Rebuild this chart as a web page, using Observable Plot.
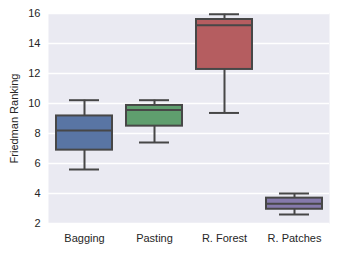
<!DOCTYPE html>
<html>
<head>
<meta charset="utf-8">
<script src="https://cdn.jsdelivr.net/npm/d3@7"></script>
<script src="https://cdn.jsdelivr.net/npm/@observablehq/plot@0.6"></script>
<style>
  html, body { margin: 0; padding: 0; background: #fff; }
  svg { display: block; }
</style>
</head>
<body>
<div id="chart"></div>
<script>
const categories = ["Bagging", "Pasting", "R. Forest", "R. Patches"];
const whiskerLow = [5.6, 7.4, 9.37, 2.6];
const q1 = [6.89, 8.49, 12.27, 2.95];
const median = [8.2, 9.57, 15.22, 3.31];
const q3 = [9.17, 9.87, 15.6, 3.69];
const whiskerHigh = [10.22, 10.22, 15.95, 4.0];
const colors = ["#5975A4", "#5F9E6E", "#B55D60", "#857AAB"];
const yTicks = [2, 4, 6, 8, 10, 12, 14, 16];

const data = categories.map((c, i) => ({
  cat: c, lo: whiskerLow[i], q1: q1[i], med: median[i], q3: q3[i], hi: whiskerHigh[i], color: colors[i]
}));

const lineColor = "#474747";

const chart = Plot.plot({
  width: 338,
  height: 254,
  marginLeft: 48,
  marginRight: 9,
  marginTop: 13,
  marginBottom: 31,
  style: { fontFamily: "'Liberation Sans', Arial, sans-serif", fontSize: "11px", color: "#262626", background: "#fff" },
  x: { domain: categories, paddingInner: 0.2, paddingOuter: 0.1, label: null },
  y: { domain: [2, 16], label: null },
  marks: [
    Plot.frame({ fill: "#EAEAF2", stroke: null }),
    Plot.gridY(yTicks, { stroke: "#fff", strokeOpacity: 1, strokeWidth: 1.3 }),
    Plot.axisX({ tickSize: 0, tickPadding: 11, label: null, fontSize: 11 }),
    Plot.axisY(yTicks, { tickSize: 0, tickPadding: 8, label: "Friedman Ranking", labelAnchor: "center", labelArrow: "none", labelOffset: 38, fontSize: 11 }),
    Plot.ruleX(data, { x: "cat", y1: "q3", y2: "hi", stroke: lineColor, strokeWidth: 2 }),
    Plot.ruleX(data, { x: "cat", y1: "lo", y2: "q1", stroke: lineColor, strokeWidth: 2 }),
    Plot.tickY(data, { x: "cat", y: "hi", stroke: lineColor, strokeWidth: 2, insetLeft: 13, insetRight: 13 }),
    Plot.tickY(data, { x: "cat", y: "lo", stroke: lineColor, strokeWidth: 2, insetLeft: 13, insetRight: 13 }),
    Plot.barY(data, { x: "cat", y1: "q1", y2: "q3", fill: "color", stroke: lineColor, strokeWidth: 2 }),
    Plot.tickY(data, { x: "cat", y: "med", stroke: lineColor, strokeWidth: 2 })
  ]
});
document.getElementById("chart").appendChild(chart);
</script>
</body>
</html>
